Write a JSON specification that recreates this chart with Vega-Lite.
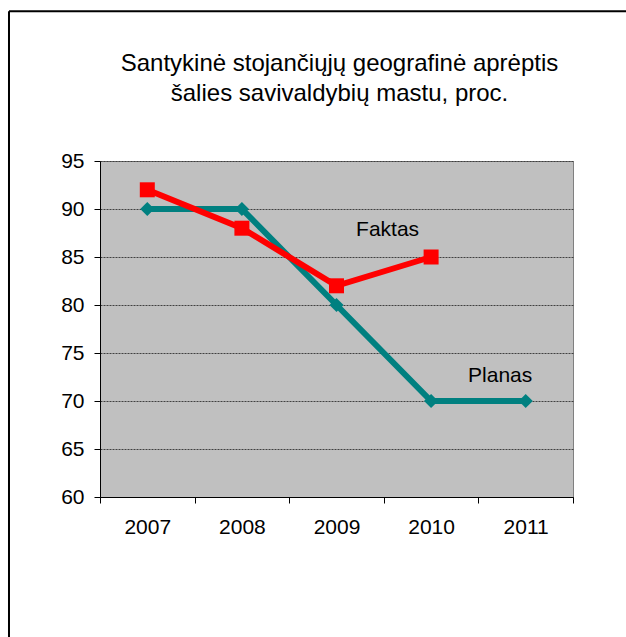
{
  "$schema": "https://vega.github.io/schema/vega-lite/v6.json",
  "autosize": {"type": "none"},
  "width": 473,
  "height": 336,
  "padding": {"left": 100, "top": 161, "right": 53, "bottom": 140},
  "background": "white",
  "config": {
    "font": "Liberation Sans",
    "view": {"stroke": "#808080", "strokeWidth": 1, "fill": "#C0C0C0"}
  },
  "title": {
    "text": ["Santykinė stojančiųjų geografinė aprėptis", "šalies savivaldybių mastu, proc."],
    "fontSize": 24,
    "fontWeight": "normal",
    "color": "black",
    "anchor": "middle",
    "lineHeight": 30,
    "offset": -96,
    "dx": 3
  },
  "datasets": {
    "series": [
      {"year": 2007, "value": 90, "series": "Planas"},
      {"year": 2008, "value": 90, "series": "Planas"},
      {"year": 2009, "value": 80, "series": "Planas"},
      {"year": 2010, "value": 70, "series": "Planas"},
      {"year": 2011, "value": 70, "series": "Planas"},
      {"year": 2007, "value": 92, "series": "Faktas"},
      {"year": 2008, "value": 88, "series": "Faktas"},
      {"year": 2009, "value": 82, "series": "Faktas"},
      {"year": 2010, "value": 85, "series": "Faktas"}
    ],
    "labels": [
      {"x": 2009.54, "y": 87.8, "label": "Faktas"},
      {"x": 2010.73, "y": 72.6, "label": "Planas"}
    ]
  },
  "layer": [
    {
      "data": {"name": "series"},
      "mark": {"type": "line", "strokeWidth": 6, "clip": false},
      "encoding": {
        "x": {
          "field": "year", "type": "quantitative",
          "scale": {"domain": [2006.5, 2011.5], "nice": false, "zero": false},
          "axis": {
            "title": null,
            "values": [2006.5, 2007.5, 2008.5, 2009.5, 2010.5, 2011.5],
            "labelExpr": "datum.value > 2011 ? '' : format(datum.value + 0.5, 'd')",
            "labelOffset": 47.3,
            "labelFlush": false,
            "labelOverlap": false,
            "labelFontSize": 21,
            "labelColor": "black",
            "labelPadding": 13,
            "tickSize": 6,
            "tickColor": "black",
            "domainColor": "black",
            "grid": false
          }
        },
        "y": {
          "field": "value", "type": "quantitative",
          "scale": {"domain": [60, 95], "nice": false, "zero": false},
          "axis": {
            "title": null,
            "values": [60, 65, 70, 75, 80, 85, 90, 95],
            "labelFontSize": 21,
            "labelColor": "black",
            "labelPadding": 10,
            "tickSize": 6,
            "tickColor": "black",
            "domainColor": "black",
            "grid": true,
            "gridColor": "#404040",
            "gridDash": [2, 1],
            "gridWidth": 1
          }
        },
        "color": {
          "field": "series", "type": "nominal",
          "scale": {"domain": ["Planas", "Faktas"], "range": ["#008080", "#FF0000"]},
          "legend": null
        },
        "order": {"field": "year", "type": "quantitative"},
        "detail": {"field": "series"}
      }
    },
    {
      "data": {"name": "series"},
      "mark": {"type": "point", "filled": true, "opacity": 1, "clip": false},
      "encoding": {
        "x": {"field": "year", "type": "quantitative"},
        "y": {"field": "value", "type": "quantitative"},
        "color": {"field": "series", "type": "nominal", "legend": null},
        "shape": {
          "field": "series", "type": "nominal",
          "scale": {"domain": ["Planas", "Faktas"], "range": ["diamond", "square"]},
          "legend": null
        },
        "size": {
          "field": "series", "type": "nominal",
          "scale": {"domain": ["Planas", "Faktas"], "range": [200, 225]},
          "legend": null
        }
      }
    },
    {
      "data": {"name": "labels"},
      "mark": {"type": "text", "fontSize": 21, "color": "black", "align": "center", "baseline": "middle"},
      "encoding": {
        "x": {"field": "x", "type": "quantitative"},
        "y": {"field": "y", "type": "quantitative"},
        "text": {"field": "label"}
      }
    },
    {
      "data": {"values": [{}]},
      "mark": {"type": "rule", "color": "black", "strokeWidth": 2, "clip": false},
      "encoding": {
        "x": {"datum": 2005.538, "type": "quantitative"},
        "y": {"datum": 110.6, "type": "quantitative"},
        "y2": {"datum": 40}
      }
    },
    {
      "data": {"values": [{}]},
      "mark": {"type": "rule", "color": "black", "strokeWidth": 2, "clip": false},
      "encoding": {
        "x": {"datum": 2005.538, "type": "quantitative"},
        "x2": {"datum": 2013},
        "y": {"datum": 110.6, "type": "quantitative"}
      }
    }
  ]
}
